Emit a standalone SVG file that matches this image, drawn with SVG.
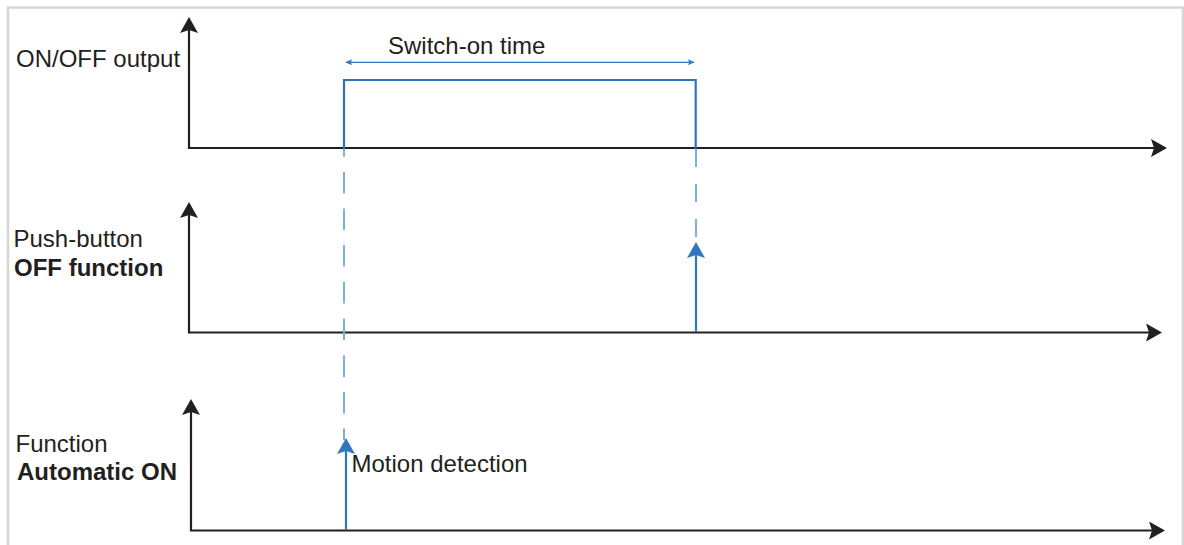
<svg xmlns="http://www.w3.org/2000/svg" width="1184" height="545" viewBox="0 0 1184 545">
  <defs>
    <style>
      .lbl { font-family: "Liberation Sans", Arial, sans-serif; font-size: 24px; fill: #231f20; }
      .b { font-weight: bold; }
      .axis { fill: none; stroke: #231f20; stroke-width: 2.2; }
      .pulse { fill: none; stroke: #2e74b5; stroke-width: 2.2; }
      .dash { fill: none; stroke: #7fb0dc; stroke-width: 2; }
      .sig { fill: none; stroke: #2e78c2; stroke-width: 2.2; }
      .span { fill: none; stroke: #2e78c2; stroke-width: 1.2; }
    </style>
    <marker id="ak" markerUnits="userSpaceOnUse" markerWidth="17" markerHeight="19" refX="12" refY="9" orient="auto-start-reverse">
      <path d="M0,0 L16,9 L0,18 L3,9 Z" fill="#231f20"/>
    </marker>
    <marker id="ab" markerUnits="userSpaceOnUse" markerWidth="17" markerHeight="19" refX="12" refY="9" orient="auto">
      <path d="M0,0 L16,9 L0,18 L3,9 Z" fill="#2e78c2"/>
    </marker>
    <marker id="as" markerUnits="userSpaceOnUse" markerWidth="8" markerHeight="7" refX="6" refY="3" orient="auto-start-reverse">
      <path d="M0,0 L6.5,3 L0,6 L1.2,3 Z" fill="#2e78c2"/>
    </marker>
  </defs>

  <rect x="8" y="7.5" width="1175" height="560" fill="#ffffff" stroke="#d6d6d6" stroke-width="2.5"/>

  <g id="chart-onoff">
    <text class="lbl" x="16" y="67">ON/OFF output</text>
  </g>
  <g id="chart-pushbutton">
    <text class="lbl" x="13.5" y="246.5">Push-button</text>
    <text class="lbl b" x="14" y="276">OFF function</text>
  </g>
  <g id="chart-automatic">
    <text class="lbl" x="15.5" y="452">Function</text>
    <text class="lbl b" x="17" y="480">Automatic ON</text>
  </g>
  <g id="label-switch-on-time">
    <text class="lbl" x="388" y="54">Switch-on time</text>
  </g>
  <g id="label-motion">
    <text class="lbl" x="351.5" y="471.5">Motion detection</text>
  </g>

  <g id="connectors">
    <path class="axis" d="M189,21 V148 H1163" marker-start="url(#ak)" marker-end="url(#ak)"/>
    <path class="axis" d="M189,206 V332.5 H1158" marker-start="url(#ak)" marker-end="url(#ak)"/>
    <path class="axis" d="M191,403 V530.5 H1161" marker-start="url(#ak)" marker-end="url(#ak)"/>
    <line class="dash" x1="344" y1="148" x2="344" y2="440" stroke-dasharray="21.7 15" stroke-dashoffset="13"/>
    <line class="dash" x1="696" y1="149" x2="696" y2="242" stroke-dasharray="18 17"/>
    <path class="pulse" d="M344,149 V80 H695.7 V149"/>
    <line class="span" x1="346" y1="62.3" x2="694" y2="62.3" marker-start="url(#as)" marker-end="url(#as)"/>
    <path class="sig" d="M346,530 V442" marker-end="url(#ab)"/>
    <path class="sig" d="M696,332 V246" marker-end="url(#ab)"/>
  </g>
</svg>
